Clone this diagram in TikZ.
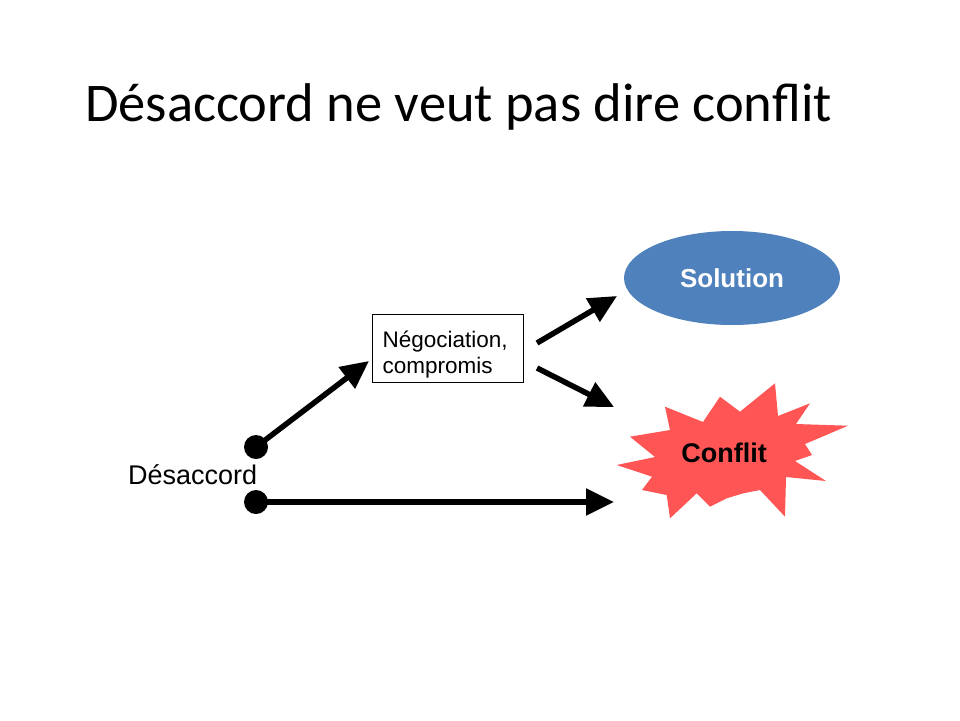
\documentclass[tikz,border=0pt]{standalone}
\usepackage{fontspec}
\setmainfont{Liberation Sans}
\newfontfamily\titlefont{Carlito}
\usetikzlibrary{arrows.meta,shapes.geometric}

\definecolor{solblue}{RGB}{79,129,189}
\definecolor{conflitred}{RGB}{255,85,85}

\tikzset{
  bigdot/.style={circle,fill=black,inner sep=0pt,minimum size=24pt},
  fatarrow/.style={line width=5.5pt,-{Triangle[length=28pt,width=26pt]}},
  labeltext/.style={inner sep=0pt,font=\fontsize{27}{32}\selectfont},
}

\begin{document}
\begin{tikzpicture}[x=1pt,y=-1pt]
%
\useasboundingbox[fill=white] (0,0) rectangle (960,720);
%
% title
\node (title) at (85,121)[anchor=base west,inner sep=0pt]{\titlefont\fontsize{54.5}{60}\selectfont Désaccord ne veut pas dire conflit};
%
% starting points
\node[bigdot] (d1) at (256,447) {};
\node[bigdot] (d2) at (256,502) {};
\node[labeltext,anchor=base west] (desaccord) at (128,484) {Désaccord};
%
% middle box
\node[draw,line width=1pt,align=left,text width=131pt,inner xsep=10pt,minimum height=68pt,
      font=\fontsize{22.5}{26}\selectfont] (nego) at (448,348) {\rule{0pt}{29pt}Négociation,\\compromis};
%
% outcomes
\node[ellipse,fill=solblue,minimum width=216pt,minimum height=94pt,text=white,
      font=\bfseries\fontsize{26}{30}\selectfont] (sol) at (732,278) {Solution};
\fill[conflitred] (616.7,465)--(655,457)--(630,436.7)--(670,430)--(665,406.7)
  --(703,422)--(720,396.7)--(740,411.7)--(775,383.3)--(778,416)
  --(810,403.3)--(796,424)--(848,425.7)--(805,444)--(812,455)
  --(795,461)--(826,481)--(786,477)--(785,516.7)--(760,490)
  --(743.3,493.3)--(726.7,498.3)--(710,506.7)--(696.7,493.3)--(670,518.3)
  --(666.7,495)--(642,490)--(652,476.7)--cycle;
\node[labeltext,font=\bfseries\fontsize{27}{32}\selectfont] (conflit) at (724,453) {Conflit};
%
% arrow ends
\coordinate (nego-in) at (369,361);
\coordinate (sol-out) at (537,343);
\coordinate (sol-in) at (617,296);
\coordinate (con-out) at (537,368);
\coordinate (con-in) at (614,407);
\coordinate (direct-in) at (614,502);
%
% arrows
\draw[fatarrow] (d1.center)--(nego-in);
\draw[fatarrow] (sol-out)--(sol-in);
\draw[fatarrow] (con-out)--(con-in);
\draw[fatarrow] (d2.center)--(direct-in);
%
\end{tikzpicture}
\end{document}
